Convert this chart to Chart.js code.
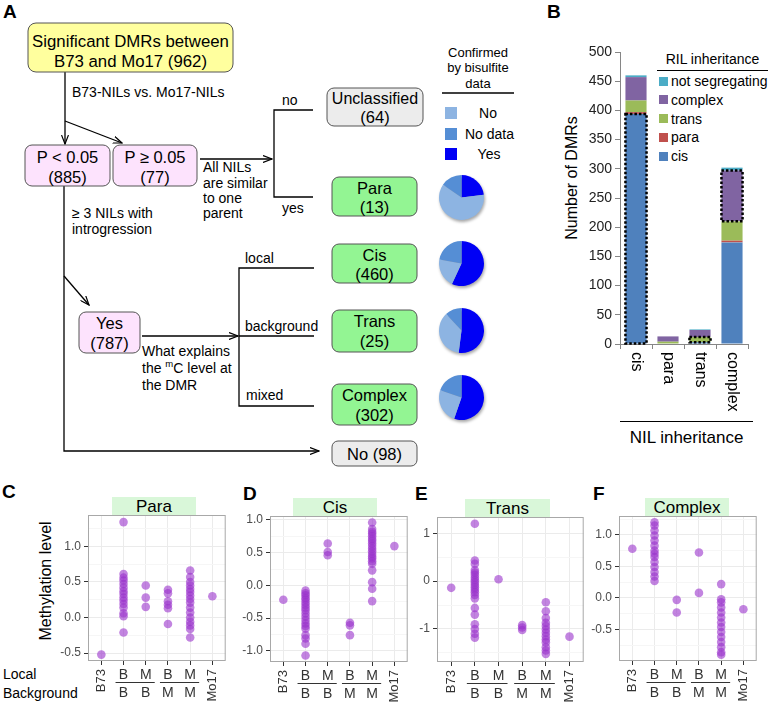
<!DOCTYPE html>
<html>
<head>
<meta charset="utf-8">
<title>DMR inheritance</title>
<script src="https://cdn.jsdelivr.net/npm/chart.js@4.4.1/dist/chart.umd.min.js"></script>
<style>
  body { margin: 0; background: #fff; }
  #fig { position: relative; width: 768px; height: 703px; overflow: hidden;
         font-family: "Liberation Sans", Arial, sans-serif; color: #000; }
  #fig canvas { position: absolute; }
  .panel { position: absolute; font-weight: bold; font-size: 19px; line-height: 19px; }
  .txt { position: absolute; white-space: nowrap; }
  .rot { position: absolute; white-space: nowrap; transform: translate(-50%, -50%) rotate(-90deg); }
  .strip { position: absolute; height: 18px; line-height: 19px; background: #d9f7d9;
           text-align: center; font-size: 17px; }
  .pie { filter: drop-shadow(1px 2px 1.5px rgba(0,0,0,0.35)); }
  .sw { position: absolute; width: 9px; height: 9px; }
</style>
</head>
<body>
<div id="fig">

<!-- flow diagram of panel A -->
<svg style="position:absolute;left:0;top:0" width="768" height="703"
     font-family="Liberation Sans, Arial, sans-serif">
  <defs>
    <marker id="ar" markerWidth="10" markerHeight="8" refX="9" refY="4" orient="auto" markerUnits="userSpaceOnUse">
      <path d="M0,0.5 L9,4 L0,7.5" fill="none" stroke="#000" stroke-width="1.2"/>
    </marker>
  </defs>
  <g stroke="#000" stroke-width="1.3" fill="none">
    <path d="M65,72 V144" marker-end="url(#ar)"/>
    <path d="M65,121 L122,143" marker-end="url(#ar)"/>
    <path d="M200,159 H272" marker-end="url(#ar)"/>
    <path d="M313,110 H274 V197 H313"/>
    <path d="M64,186 V451 H319" marker-end="url(#ar)"/>
    <path d="M64,276 L89,305" marker-end="url(#ar)"/>
    <path d="M142,336 H238" marker-end="url(#ar)"/>
    <path d="M314,268 H239 V406 H314 M239,336 H314"/>
    <path d="M442,93 H514"/>
  </g>
  <g stroke="#555" stroke-width="1">
    <rect x="28" y="23" width="205" height="49" rx="8" fill="#ffff9e"/>
    <rect x="25" y="145" width="85" height="41" rx="7" fill="#fde3fd"/>
    <rect x="113" y="145" width="84" height="41" rx="7" fill="#fde3fd"/>
    <rect x="79" y="312" width="61" height="41" rx="7" fill="#fde3fd"/>
    <rect x="327" y="88" width="96" height="38" rx="7" fill="#ececec"/>
    <rect x="332" y="177" width="85" height="39" rx="7" fill="#93f593"/>
    <rect x="332" y="244" width="85" height="39" rx="7" fill="#93f593"/>
    <rect x="332" y="310" width="85" height="42" rx="7" fill="#93f593"/>
    <rect x="332" y="384" width="85" height="41" rx="7" fill="#93f593"/>
    <rect x="332" y="441" width="85" height="25" rx="6" fill="#ececec"/>
  </g>
  <g font-size="16.8" text-anchor="middle" dominant-baseline="central" fill="#000">
    <text x="130.5" y="41">Significant DMRs between</text>
    <text x="130.5" y="61">B73 and Mo17 (962)</text>
  </g>
  <g font-size="16.5" text-anchor="middle" dominant-baseline="central" fill="#000">
    <text x="67.5" y="157">P &lt; 0.05</text>
    <text x="67.5" y="177">(885)</text>
    <text x="155" y="157">P ≥ 0.05</text>
    <text x="155" y="177">(77)</text>
    <text x="109.5" y="323">Yes</text>
    <text x="109.5" y="343">(787)</text>
    <text x="375" y="98" font-size="16">Unclassified</text>
    <text x="375" y="117">(64)</text>
    <text x="374.5" y="188">Para</text>
    <text x="374.5" y="207">(13)</text>
    <text x="374.5" y="255">Cis</text>
    <text x="374.5" y="274">(460)</text>
    <text x="374.5" y="321">Trans</text>
    <text x="374.5" y="341">(25)</text>
    <text x="374.5" y="395">Complex</text>
    <text x="374.5" y="415">(302)</text>
    <text x="374.5" y="454">No (98)</text>
  </g>
  <g font-size="14" dominant-baseline="central" fill="#000">
    <text x="72" y="92">B73-NILs vs. Mo17-NILs</text>
    <text x="282" y="100">no</text>
    <text x="282" y="208">yes</text>
    <text x="203" y="167">All NILs</text>
    <text x="203" y="183">are similar</text>
    <text x="203" y="198">to one</text>
    <text x="203" y="213">parent</text>
    <text x="72" y="213">≥ 3 NILs with</text>
    <text x="72" y="229">introgression</text>
    <text x="245" y="258">local</text>
    <text x="245" y="326">background</text>
    <text x="246" y="395">mixed</text>
    <text x="142" y="351">What explains</text>
    <text x="142" y="368">the <tspan font-size="9.5" dy="-5">m</tspan><tspan dy="5">C level at</tspan></text>
    <text x="142" y="385">the DMR</text>
  </g>
  <g font-size="13" text-anchor="middle" dominant-baseline="central" fill="#000">
    <text x="478" y="52">Confirmed</text>
    <text x="478" y="67">by bisulfite</text>
    <text x="478" y="83">data</text>
  </g>
  <rect x="445" y="107" width="12" height="12" fill="#8db4e2"/>
  <rect x="445" y="128" width="12" height="12" fill="#558ed5"/>
  <rect x="445" y="148" width="12" height="12" fill="#0000f5"/>
  <g font-size="14" dominant-baseline="central" fill="#000">
    <text x="488" y="113" text-anchor="middle">No</text>
    <text x="465" y="134">No data</text>
    <text x="489" y="154" text-anchor="middle">Yes</text>
  </g>
</svg>

<div class="panel" style="left:3px;top:2px">A</div>
<div class="panel" style="left:547px;top:2px">B</div>
<div class="panel" style="left:2px;top:482px">C</div>
<div class="panel" style="left:243px;top:484px">D</div>
<div class="panel" style="left:415px;top:484px">E</div>
<div class="panel" style="left:593px;top:484px">F</div>

<canvas id="pie0" class="pie" width="45" height="45" style="left:439px;top:175px"></canvas>
<canvas id="pie1" class="pie" width="45" height="45" style="left:439px;top:241px"></canvas>
<canvas id="pie2" class="pie" width="45" height="45" style="left:439px;top:308px"></canvas>
<canvas id="pie3" class="pie" width="45" height="45" style="left:439px;top:375px"></canvas>

<!-- panel B extras -->
<div class="rot" style="left:572px;top:178px;font-size:16px">Number of DMRs</div>
<div class="txt" style="left:657px;top:51px;width:111px;text-align:center;font-size:14px;line-height:17px">RIL inheritance</div>
<div style="position:absolute;left:657px;top:70px;width:111px;height:1px;background:#000"></div>
<div id="legB"></div>
<div style="position:absolute;left:620px;top:421px;width:133px;height:1px;background:#000"></div>
<div class="txt" style="left:620px;top:428px;width:133px;text-align:center;font-size:17px;line-height:19px">NIL inheritance</div>
<canvas id="bars" width="223" height="400" style="left:545px;top:30px"></canvas>

<!-- panels C-F extras -->
<div class="rot" style="left:46px;top:581px;font-size:16px">Methylation level</div>
<div class="txt" style="left:3px;top:666px;font-size:14px;line-height:16px">Local</div>
<div class="txt" style="left:3px;top:685px;font-size:14px;line-height:16px">Background</div>
<div class="strip" style="left:112px;top:497px;width:84px">Para</div>
<div class="strip" style="left:293px;top:498px;width:84px">Cis</div>
<div class="strip" style="left:465px;top:499px;width:85px">Trans</div>
<div class="strip" style="left:645px;top:498px;width:84px">Complex</div>
<canvas id="scC"></canvas>
<canvas id="scD"></canvas>
<canvas id="scE"></canvas>
<canvas id="scF"></canvas>
</div>

<script>
Chart.defaults.font.family = '"Liberation Sans", Arial, sans-serif';
Chart.defaults.animation = false;

// ---- pies: Yes / No / No data
const pieLabels = ['Yes', 'No', 'No data'];
const pieColors = ['#0000f5', '#8db4e2', '#558ed5'];
const paraPie = [3, 8, 2];
const cisPie = [262, 96, 102];
const transPie = [13, 9, 3];
const complexPie = [167, 75, 60];

// ---- bar chart (NIL inheritance x RIL inheritance)
const barCats = ['cis', 'para', 'trans', 'complex'];
const rilCis = [394, 0, 3, 174];
const rilPara = [3, 0, 0, 3];
const rilTrans = [20, 4, 9, 33];
const rilComplex = [40, 9, 12, 87];
const rilNotSeg = [3, 0, 1, 5];
const yTicksB = [0, 50, 100, 150, 200, 250, 300, 350, 400, 450, 500];
// [dataset, category] boxes drawn dotted
const boxed = [[0, 0], [2, 2], [3, 3]];

// ---- scatter panels
const groups = ['B73', 'B/B', 'M/B', 'B/M', 'M/M', 'Mo17'];
const paraY = [
  [-0.52],
  [1.34, 0.61, 0.56, 0.52, 0.47, 0.42, 0.37, 0.33, 0.28, 0.24, 0.19, 0.14, 0.06, 0.02, -0.21],
  [0.45, 0.28, 0.15],
  [0.39, 0.34, 0.23, 0.18, 0.13, -0.09],
  [0.66, 0.57, 0.50, 0.45, 0.40, 0.36, 0.31, 0.26, 0.21, 0.14, 0.07, 0.00, -0.06, -0.11, -0.16, -0.28],
  [0.30]
];
const cisY = [
  [-0.22],
  [-0.08, -0.12, -0.15, -0.19, -0.22, -0.26, -0.30, -0.34, -0.38, -0.43, -0.48, -0.53, -0.58, -0.62, -0.66, -0.76, -0.81, -0.89, -1.07],
  [0.64, 0.51, 0.46],
  [-0.57, -0.61, -0.76],
  [0.96, 0.86, 0.82, 0.79, 0.75, 0.71, 0.68, 0.64, 0.60, 0.56, 0.52, 0.48, 0.44, 0.41, 0.37, 0.33, 0.23, 0.05, -0.05, -0.24],
  [0.60]
];
const transY = [
  [-0.14],
  [1.20, 0.43, 0.36, 0.23, 0.18, 0.13, 0.07, 0.02, -0.03, -0.08, -0.13, -0.18, -0.23, -0.29, -0.36, -0.56, -0.70, -0.90, -1.00, -1.10, -1.18],
  [0.04],
  [-0.92, -0.97, -1.02],
  [-0.44, -0.63, -0.77, -0.87, -0.94, -1.01, -1.08, -1.15, -1.22, -1.28, -1.38, -1.45, -1.52],
  [-1.16]
];
const complexY = [
  [0.78],
  [1.20, 1.15, 1.07, 0.99, 0.91, 0.83, 0.75, 0.70, 0.65, 0.57, 0.49, 0.41, 0.34, 0.27],
  [-0.03, -0.23],
  [0.72, 0.08],
  [0.22, -0.02, -0.07, -0.15, -0.23, -0.31, -0.39, -0.46, -0.54, -0.62, -0.70, -0.78, -0.86, -0.90],
  [-0.18]
];

// pies
[paraPie, cisPie, transPie, complexPie].forEach((vals, i) => {
  new Chart(document.getElementById('pie' + i), {
    type: 'pie',
    data: { labels: pieLabels, datasets: [{ data: vals, backgroundColor: pieColors, borderWidth: 0, hoverOffset: 0 }] },
    options: { responsive: false, plugins: { legend: { display: false }, tooltip: { enabled: false } } }
  });
});

// bar legend (reverse order like the original)
const rilNames = ['cis', 'para', 'trans', 'complex', 'not segregating'];
const rilColors = ['#4f81bd', '#c0504d', '#9bbb59', '#8064a2', '#4bacc6'];
const legB = document.getElementById('legB');
[4, 3, 2, 1, 0].forEach((k, j) => {
  const yc = 81 + j * 18.8;
  legB.insertAdjacentHTML('beforeend',
    `<div class="sw" style="left:659px;top:${yc - 4.5}px;background:${rilColors[k]}"></div>` +
    `<div class="txt" style="left:671px;top:${yc - 8}px;font-size:14px;line-height:16px">${rilNames[k]}</div>`);
});

const dottedBoxes = {
  id: 'dottedBoxes',
  afterDatasetsDraw(chart) {
    const ctx = chart.ctx;
    ctx.save();
    ctx.setLineDash([2.5, 2]);
    ctx.lineWidth = 2.5;
    ctx.strokeStyle = '#000';
    boxed.forEach(([ds, i]) => {
      const b = chart.getDatasetMeta(ds).data[i].getProps(['x', 'y', 'base', 'width'], true);
      ctx.strokeRect(b.x - b.width / 2, b.y, b.width, b.base - b.y);
    });
    ctx.restore();
  }
};

const barLabels = {
  id: 'barLabels',
  afterDraw(chart) {
    const { ctx, chartArea, scales: { x } } = chart;
    ctx.save();
    ctx.font = '16px "Liberation Sans", Arial, sans-serif';
    ctx.fillStyle = '#000';
    ctx.textAlign = 'left';
    ctx.textBaseline = 'middle';
    barCats.forEach((c, i) => {
      ctx.save();
      ctx.translate(x.getPixelForValue(i), chartArea.bottom + 8);
      ctx.rotate(Math.PI / 2);
      ctx.fillText(c, 0, 0);
      ctx.restore();
    });
    ctx.restore();
  }
};

new Chart(document.getElementById('bars'), {
  type: 'bar',
  data: {
    labels: barCats,
    datasets: [rilCis, rilPara, rilTrans, rilComplex, rilNotSeg].map((d, k) => ({
      label: rilNames[k], data: d, backgroundColor: rilColors[k], borderWidth: 0,
      barPercentage: 0.66, categoryPercentage: 1
    }))
  },
  options: {
    responsive: false,
    layout: { padding: { top: 22, right: 20 } },
    plugins: { legend: { display: false }, tooltip: { enabled: false } },
    scales: {
      x: {
        stacked: true,
        afterFit: s => { s.height = 86; },
        ticks: { display: false },
        grid: { drawOnChartArea: false, tickLength: 5, color: '#868686' },
        border: { color: '#868686' }
      },
      y: {
        stacked: true, min: 0, max: 500,
        afterBuildTicks: s => { s.ticks = yTicksB.map(v => ({ value: v })); },
        afterFit: s => { s.width = 75; },
        ticks: { font: { size: 14 }, color: '#222', padding: 3 },
        grid: { drawOnChartArea: false, tickLength: 5, color: '#868686' },
        border: { color: '#868686' }
      }
    }
  },
  plugins: [dottedBoxes, barLabels]
});

// scatter panels
const groupLabels = {
  id: 'groupLabels',
  afterDraw(chart) {
    const { ctx, chartArea, scales: { x } } = chart;
    const b = chartArea.bottom;
    ctx.save();
    ctx.strokeStyle = '#a8a8a8';
    ctx.lineWidth = 1;
    ctx.strokeRect(chartArea.left + 0.5, chartArea.top + 0.5, chartArea.width - 1, chartArea.height - 1);
    ctx.fillStyle = '#333';
    groups.forEach((g, i) => {
      const px = x.getPixelForValue(i + 1);
      if (g.indexOf('/') < 0) {
        ctx.save();
        ctx.font = '13px "Liberation Sans", Arial, sans-serif';
        ctx.textAlign = 'right';
        ctx.textBaseline = 'middle';
        ctx.translate(px, b + 8);
        ctx.rotate(-Math.PI / 2);
        ctx.fillText(g, 0, 0);
        ctx.restore();
      } else {
        const [loc, bg] = g.split('/');
        ctx.font = '14px "Liberation Sans", Arial, sans-serif';
        ctx.textAlign = 'center';
        ctx.textBaseline = 'middle';
        ctx.fillText(loc, px, b + 14);
        ctx.fillText(bg, px, b + 32);
      }
    });
    ctx.strokeStyle = '#333';
    [[2, 3], [4, 5]].forEach(([a, c]) => {
      ctx.beginPath();
      ctx.moveTo(x.getPixelForValue(a) - 8, b + 21.5);
      ctx.lineTo(x.getPixelForValue(c) + 9, b + 21.5);
      ctx.stroke();
    });
    ctx.restore();
  }
};

function scatterPanel(id, plot, vals, yMin, yMax, major, minor, digits) {
  const cv = document.getElementById(id);
  const top = 500;
  cv.width = plot.r - plot.l + 46;
  cv.height = 703 - top;
  cv.style.left = (plot.l - 42) + 'px';
  cv.style.top = top + 'px';
  const pts = [];
  vals.forEach((arr, gi) => arr.forEach(v => pts.push({ x: gi + 1, y: v })));
  const allTicks = major.concat(minor);
  new Chart(cv, {
    type: 'scatter',
    data: { datasets: [{ data: pts, pointRadius: 4.3, pointBackgroundColor: 'rgba(153,50,204,0.6)', pointBorderWidth: 0 }] },
    options: {
      responsive: false,
      layout: { padding: { top: plot.t - top, right: 4 } },
      plugins: { legend: { display: false }, tooltip: { enabled: false } },
      scales: {
        x: {
          type: 'linear', min: 0.4, max: 6.6,
          afterBuildTicks: s => { s.ticks = groups.map((g, i) => ({ value: i + 1 })); },
          afterFit: s => { s.height = 703 - plot.b; },
          ticks: { display: false },
          grid: { color: '#ebebeb', tickColor: '#333', tickLength: 4 },
          border: { display: false }
        },
        y: {
          min: yMin, max: yMax,
          afterBuildTicks: s => { s.ticks = allTicks.map(v => ({ value: v })); },
          afterFit: s => { s.width = 42; },
          ticks: {
            font: { size: 12 }, color: '#4d4d4d', padding: 3,
            callback: v => major.includes(v) ? v.toFixed(digits) : ''
          },
          grid: {
            color: c => major.includes(c.tick.value) ? '#ebebeb' : '#f6f6f6',
            tickColor: c => major.includes(c.tick.value) ? '#333' : 'rgba(0,0,0,0)',
            tickLength: 4
          },
          border: { display: false }
        }
      }
    },
    plugins: [groupLabels]
  });
}

scatterPanel('scC', { l: 88, r: 226, t: 515, b: 661 }, paraY, -0.61, 1.44, [-0.5, 0, 0.5, 1.0], [-0.25, 0.25, 0.75, 1.25], 1);
scatterPanel('scD', { l: 270, r: 408, t: 516, b: 662 }, cisY, -1.17, 1.06, [-1.0, -0.5, 0, 0.5, 1.0], [-0.75, -0.25, 0.25, 0.75], 1);
scatterPanel('scE', { l: 437, r: 584, t: 517, b: 662 }, transY, -1.69, 1.34, [-1, 0, 1], [-1.5, -0.5, 0.5], 0);
scatterPanel('scF', { l: 619, r: 757, t: 516, b: 661 }, complexY, -1.0, 1.30, [-0.5, 0, 0.5, 1.0], [-0.75, -0.25, 0.25, 0.75, 1.25], 1);
</script>
</body>
</html>
